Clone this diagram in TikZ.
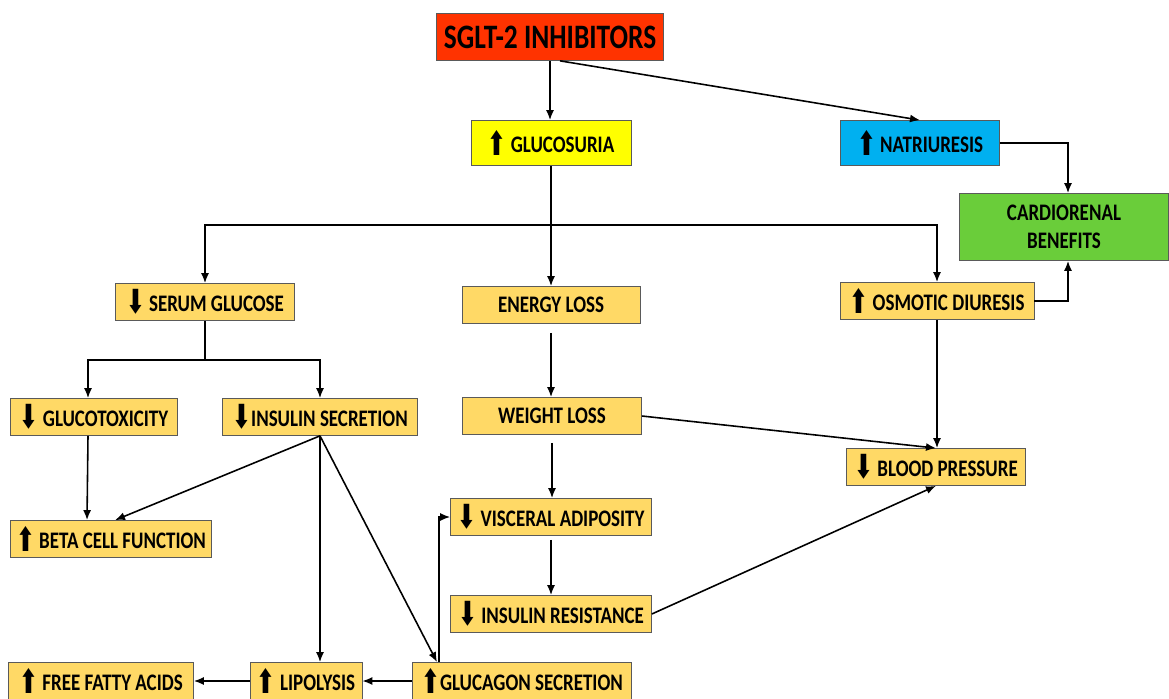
\documentclass[tikz,border=0pt]{standalone}
\usepackage{fontspec}
\setmainfont{Carlito}
\newfontfamily\boxfont{Carlito}[FakeStretch=0.8]
\newfontfamily\arrowfont{DejaVu Sans}
\usepackage{xcolor}
\usetikzlibrary{arrows.meta}
\definecolor{sgltred}{HTML}{FF3300}
\definecolor{glucyellow}{HTML}{FFFF00}
\definecolor{natblue}{HTML}{00B0F0}
\definecolor{cardgreen}{HTML}{6ACD3A}
\definecolor{boxgold}{HTML}{FFD966}
\definecolor{boxgrey}{HTML}{5A5A5A}
\newcommand{\arrup}{\raisebox{-1.5pt}{\scalebox{0.95}[1.4]{\arrowfont\symbol{"2B06}}}}
\newcommand{\arrdn}{\raisebox{-1.5pt}{\scalebox{0.95}[1.4]{\arrowfont\symbol{"2B07}}}}

\begin{document}
\begin{tikzpicture}[x=0.02cm, y=-0.02cm,
  box/.style={draw=boxgrey, fill=boxgold, minimum height=0.74cm,
    inner sep=2pt, font=\boxfont\fontsize{13.5}{15}\selectfont\bfseries},
  arrow/.style={-{Latex[length=2mm, width=1.6mm]}, line width=0.9pt}]
  \useasboundingbox (0,0) rectangle (1169,699);
  % top row
  \node[box, fill=sgltred, minimum width=4.54cm, minimum height=0.94cm,
    font=\boxfont\fontsize{19.5}{22}\selectfont\bfseries] (sglt) at (550,37) {SGLT-2 INHIBITORS};
  \node[box, fill=glucyellow, minimum width=3.2cm, minimum height=0.9cm] (gluc) at (551,143) {\arrup\ GLUCOSURIA};
  \node[box, fill=natblue, minimum width=3.18cm, minimum height=0.9cm] (natr) at (920,143) {\arrup\ NATRIURESIS};
  \node[box, fill=cardgreen, minimum width=4.18cm, minimum height=1.34cm, align=center] (card) at (1064,227) {CARDIORENAL\\[1pt]BENEFITS};
  % middle
  \node[box, minimum width=3.58cm] (serum) at (205,302) {\arrdn\ SERUM GLUCOSE};
  \node[box, minimum width=3.56cm] (energy) at (551,305) {ENERGY LOSS};
  \node[box, minimum width=3.88cm] (osmotic) at (937,301) {\arrup\ OSMOTIC DIURESIS};
  \node[box, minimum width=3.34cm] (glucotox) at (94,417) {\arrdn\ GLUCOTOXICITY};
  \node[box, minimum width=3.9cm] (inssec) at (320,417) {\arrdn INSULIN SECRETION\hspace{0.4cm}};
  \node[box, minimum width=3.58cm] (weight) at (552,416) {WEIGHT LOSS};
  \node[box, minimum width=3.58cm] (blood) at (936,467) {\arrdn\ BLOOD PRESSURE};
  \node[box, minimum width=4.02cm] (beta) at (111,539) {\arrup\ BETA CELL FUNCTION};
  \node[box, minimum width=4.02cm] (visceral) at (551,517) {\arrdn\ VISCERAL ADIPOSITY};
  \node[box, minimum width=4.02cm] (insres) at (551,614) {\arrdn\ INSULIN RESISTANCE};
  % bottom row
  \node[box, minimum width=3.7cm] (ffa) at (101,681) {\arrup\ FREE FATTY ACIDS};
  \node[box, minimum width=2.24cm] (lipo) at (306,681) {\arrup\ LIPOLYSIS};
  \node[box, minimum width=4.38cm] (glucagon) at (522,681) {\arrup GLUCAGON SECRETION};
  \coordinate (split) at (551,225);
  \coordinate (fork) at (205,360);
  % connectors
  \draw[arrow] (sglt.south) -- (sglt.south |- gluc.north);
  \draw[arrow] ([xshift=0.2cm]sglt.south) -- (natr.north);
  \draw[arrow] (natr.east) -| ([xshift=0.08cm]card.north);
  \draw[arrow] (gluc.south) -- (gluc.south |- energy.north);
  \draw[arrow] (split) -| (serum.north);
  \draw[arrow] (split) -| (osmotic.north);
  \draw[arrow] (osmotic.east) -| ([xshift=0.08cm]card.south);
  \draw[line width=0.9pt] (serum.south) -- (fork);
  \draw[arrow] (fork) -| ([xshift=-0.12cm]glucotox.north);
  \draw[arrow] (fork) -| (inssec.north);
  \draw[arrow] ([xshift=-0.12cm]glucotox.south) -- ([xshift=-0.48cm]beta.north);
  \draw[arrow] (inssec.south) -- ([xshift=0.08cm]beta.north);
  \draw[arrow] (inssec.south) -- (inssec.south |- lipo.north);
  \draw[arrow] (inssec.south) -- ([xshift=-1.7cm]glucagon.north);
  \draw[arrow] ([xshift=-1.66cm]glucagon.north) |- (visceral.west);
  \draw[arrow] (glucagon.west) -- (lipo.east);
  \draw[arrow] (lipo.west) -- (ffa.east);
  \draw[arrow, shorten <=0.18cm] (energy.south) -- (energy.south |- weight.north);
  \draw[arrow, shorten <=0.16cm] (weight.south) -- (weight.south |- visceral.north);
  \draw[arrow, shorten <=0.08cm] (visceral.south) -- (visceral.south |- insres.north);
  \draw[arrow] (weight.east) -- (blood.north);
  \draw[arrow] (osmotic.south) -- (osmotic.south |- blood.north);
  \draw[arrow] (insres.east) -- (blood.south);
\end{tikzpicture}
\end{document}
